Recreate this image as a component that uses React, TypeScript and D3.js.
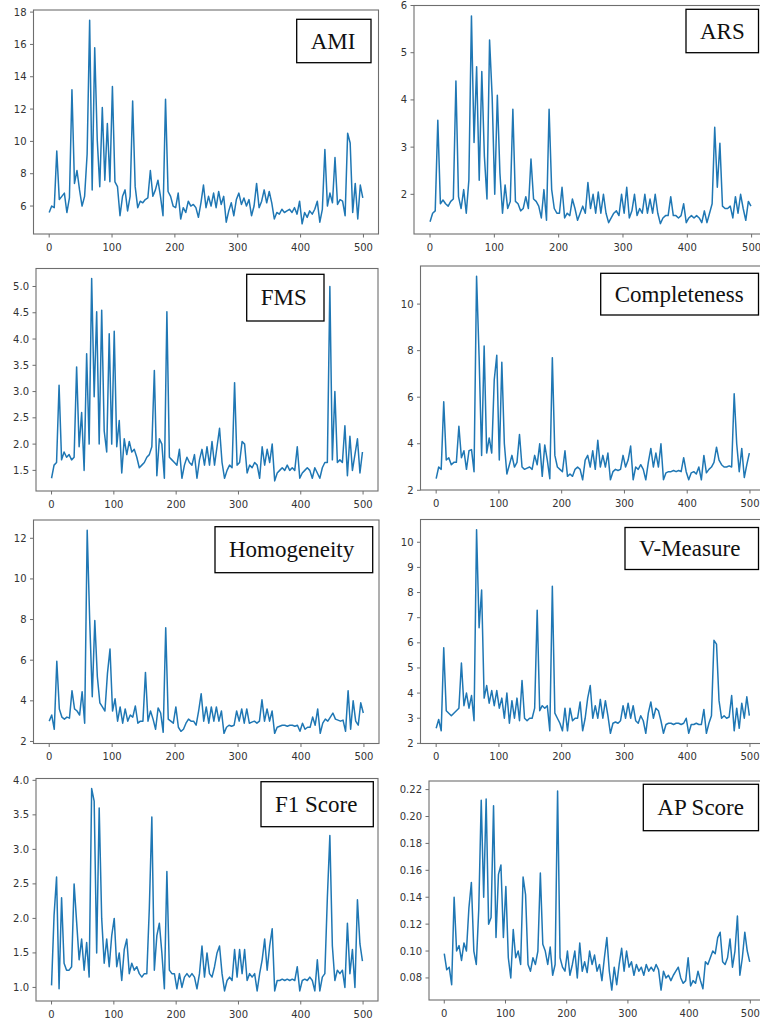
import React from 'react';
import * as d3 from 'd3';

// one value every ~4 runs (125 samples across runs 0..499)
const LAST_RUN = 499;

const titles = ['AMI', 'ARS', 'FMS', 'Completeness', 'Homogeneity', 'V-Measure', 'F1 Score', 'AP Score'];
const xTicks = [0, 100, 200, 300, 400, 500];

const amiValues = [
  5.6, 6.0, 5.9, 9.4, 6.4, 6.6, 6.8, 5.6, 6.5, 13.2,
  7.4, 8.2, 7.0, 6.0, 6.6, 9.2, 17.5, 7.0, 15.8, 10.1,
  7.2, 12.1, 7.6, 11.1, 7.5, 13.4, 7.5, 7.2, 5.4, 6.6,
  7.0, 5.7, 6.6, 12.5, 7.2, 5.9, 6.3, 6.2, 6.4, 6.5,
  8.2, 6.6, 7.0, 7.6, 6.6, 5.4, 12.6, 6.9, 6.6, 6.0,
  5.9, 6.8, 5.2, 5.9, 5.6, 6.3, 6.0, 6.1, 5.9, 5.3,
  6.2, 7.3, 5.9, 6.6, 6.0, 6.8, 5.9, 6.9, 6.1, 6.6,
  5.0, 5.7, 6.2, 5.4, 6.4, 6.8, 6.1, 6.5, 6.0, 6.4,
  5.4, 6.0, 7.4, 5.9, 6.3, 7.0, 6.2, 6.9, 6.2, 5.2,
  5.6, 5.5, 5.8, 5.6, 5.7, 5.8, 5.6, 5.9, 5.5, 6.3,
  4.9, 5.6, 5.3, 5.7, 5.5, 5.8, 6.3, 5.0, 5.8, 9.5,
  6.0, 6.8, 6.2, 9.0, 6.1, 6.4, 6.3, 5.4, 10.5, 9.9,
  5.6, 7.4, 5.2, 7.3, 6.5,
];

const arsValues = [
  1.42, 1.6, 1.65, 3.57, 1.8, 1.88, 1.8, 1.75, 1.85, 1.9,
  4.4, 1.95, 1.7, 2.1, 1.6, 2.3, 5.78, 3.1, 4.7, 2.3,
  4.6, 2.8, 1.9, 5.27, 4.07, 2.0, 4.1, 2.45, 1.6, 2.2,
  1.7, 1.85, 3.8, 1.85, 1.8, 1.65, 1.7, 1.95, 1.7, 2.75,
  1.9, 1.85, 1.75, 1.5, 2.1, 1.45, 3.8, 2.1, 1.7, 1.6,
  1.6, 2.15, 1.5, 1.6, 1.55, 1.9, 1.7, 1.45, 1.6, 1.75,
  1.6, 2.25, 1.7, 2.0, 1.6, 2.05, 1.6, 2.0, 1.6, 1.4,
  1.5, 1.6, 1.65, 1.55, 2.0, 1.6, 2.15, 1.5, 1.65, 2.0,
  1.55, 1.7, 1.6, 2.0, 1.6, 1.9, 1.6, 2.0, 1.6, 1.38,
  1.5, 1.55, 1.55, 1.95, 1.55, 1.55, 1.5, 1.55, 1.8, 1.4,
  1.5, 1.55, 1.5, 1.55, 1.5, 1.4, 1.65, 1.4, 1.6, 1.8,
  3.42, 2.15, 3.08, 1.75, 1.7, 1.7, 1.75, 1.5, 1.95, 1.6,
  2.0, 1.7, 1.45, 1.85, 1.75,
];

const fmsValues = [
  1.35, 1.6, 1.65, 3.12, 1.7, 1.85, 1.75, 1.8, 1.7, 1.75,
  3.47, 1.95, 2.6, 1.5, 3.72, 2.0, 5.15, 2.9, 4.52, 2.0,
  4.55, 2.25, 1.85, 4.1, 2.0, 4.15, 1.95, 2.45, 1.45, 2.1,
  1.8, 2.05, 1.85, 1.9, 1.75, 1.55, 1.6, 1.65, 1.75, 1.8,
  1.95, 3.4, 1.4, 2.1, 2.0, 1.35, 4.52, 1.75, 1.7, 1.65,
  1.6, 1.9, 1.35, 1.6, 1.75, 1.65, 1.6, 1.8, 1.35, 1.7,
  1.9, 1.6, 1.95, 1.6, 2.05, 1.6, 1.95, 2.3, 1.65, 1.35,
  1.5, 1.6, 1.55, 3.17, 1.6, 1.65, 2.05, 2.0, 1.45, 1.6,
  1.55, 1.65, 1.6, 1.35, 1.95, 1.6, 1.9, 1.65, 2.0, 1.3,
  1.45, 1.5, 1.55, 1.5, 1.6, 1.5, 1.55, 1.5, 1.95, 1.35,
  1.45, 1.5, 1.55, 1.5, 1.35, 1.55, 1.45, 1.35, 1.55, 1.65,
  1.65, 5.0, 1.7, 3.0, 1.65, 1.7, 1.65, 2.35, 1.4, 2.15,
  1.5, 1.8, 2.1, 1.45, 1.85,
];

const completenessValues = [
  2.5, 3.0, 2.9, 5.8, 3.3, 3.4, 3.1, 3.2, 3.2, 4.75,
  3.4, 3.7, 2.9, 3.7, 3.75, 2.8, 11.2, 7.75, 3.5, 8.2,
  3.6, 4.25, 3.6, 6.75, 7.8, 3.3, 7.5, 4.0, 2.7, 3.1,
  3.5, 3.0, 3.2, 4.4, 3.0, 2.9, 2.95, 3.0, 2.9, 3.5,
  3.1, 4.0, 2.6, 3.95, 3.3, 2.5, 7.7, 3.5, 3.0, 2.9,
  2.8, 3.7, 2.6, 2.7, 2.6, 2.9, 3.0, 2.9, 2.45, 3.3,
  3.5, 3.0, 3.7, 2.9, 4.15, 3.0, 3.5, 3.0, 3.6, 2.45,
  2.8, 2.9, 2.85, 2.9, 3.5, 3.0, 3.3, 3.9, 2.45, 3.0,
  2.9, 3.1, 2.9, 2.45, 3.2, 3.8, 3.0, 3.6, 3.0, 4.0,
  2.45, 2.75, 2.8, 2.8, 2.85, 2.8, 2.85, 2.8, 3.4, 2.8,
  2.45, 2.75, 2.8, 2.7, 3.0, 2.45, 3.5, 2.75, 2.9, 3.0,
  3.2, 3.85, 3.3, 3.1, 3.0, 3.0, 3.05, 3.0, 6.15, 4.0,
  2.8, 3.8, 2.55, 3.1, 3.6,
];

const homogeneityValues = [
  3.0, 3.3, 2.6, 5.95, 3.6, 3.2, 3.1, 3.2, 3.15, 4.5,
  3.6, 3.5, 3.3, 4.45, 2.9, 12.4, 7.9, 4.2, 7.95, 5.2,
  3.9, 3.7, 3.5, 5.35, 6.55, 3.5, 4.1, 3.0, 3.7, 2.9,
  3.6, 3.0, 3.3, 3.2, 3.75, 2.9, 3.0, 3.0, 5.4, 3.0,
  3.5, 3.1, 2.6, 3.65, 3.4, 2.45, 7.6, 3.1, 3.0, 2.9,
  3.7, 2.7, 2.5, 2.6, 2.9, 3.1, 3.0, 3.0, 2.8, 3.5,
  4.35, 3.0, 3.7, 2.9, 3.7, 3.0, 3.7, 3.0, 3.5, 2.4,
  2.7, 2.8, 2.75, 2.8, 3.5, 3.0, 3.6, 2.9, 3.6, 2.9,
  2.95, 3.0, 2.9, 3.0, 4.05, 3.0, 3.6, 3.0, 3.5, 2.4,
  2.7, 2.75, 2.8, 2.8, 2.75, 2.8, 2.8, 2.75, 2.8, 2.5,
  2.9, 2.6, 2.7, 2.7, 3.2, 2.8, 3.6, 2.4, 2.9, 3.1,
  3.0, 3.2, 3.4, 3.1, 3.05, 3.0, 3.05, 2.5, 4.5, 2.6,
  4.0, 3.0, 2.8, 3.9, 3.4,
];

const vMeasureValues = [
  2.6, 2.95, 2.5, 5.8, 3.3, 3.2, 3.1, 3.2, 3.3, 3.4,
  5.2, 3.5, 4.0, 3.4, 3.9, 2.9, 10.5, 6.6, 8.1, 3.8,
  4.3, 3.6, 4.1, 3.5, 4.1, 3.4, 3.8, 3.0, 4.0, 2.8,
  3.7, 3.0, 3.8, 2.9, 4.5, 3.0, 2.9, 3.0, 3.0, 3.4,
  7.3, 3.3, 3.5, 3.4, 3.5, 2.5, 8.25, 3.2, 3.0, 2.8,
  2.5, 3.4, 2.5, 3.4, 2.9, 3.0, 3.0, 3.65, 2.5, 3.0,
  3.8, 4.3, 3.0, 3.5, 3.0, 3.75, 3.0, 3.7, 3.1, 2.4,
  2.8, 2.85, 2.8, 2.9, 3.5, 3.0, 3.6, 3.0, 3.5, 2.9,
  2.8, 3.1, 2.9, 2.4, 3.2, 3.65, 3.0, 3.4, 3.3, 2.9,
  2.4, 2.75, 2.8, 2.8, 2.75, 2.8, 2.8, 2.75, 2.8, 3.0,
  2.4, 2.75, 2.75, 2.8, 2.75, 2.75, 3.35, 2.4, 2.8, 3.1,
  6.1, 5.95, 3.7, 3.0, 3.1, 3.0, 3.05, 3.9, 2.5, 3.4,
  2.6, 3.6, 3.0, 3.85, 3.1,
];

const f1Values = [
  1.03, 2.04, 2.6, 0.98, 2.3, 1.35, 1.25, 1.25, 1.3, 2.5,
  1.95, 1.4, 1.7, 1.25, 1.65, 1.15, 3.88, 3.7, 1.5, 3.6,
  2.0, 1.35, 1.7, 1.3, 1.75, 2.0, 1.3, 1.5, 1.1, 1.55,
  1.7, 1.2, 1.35, 1.25, 1.3, 1.2, 1.15, 1.2, 1.2, 2.15,
  3.47, 1.25, 1.75, 1.93, 1.5, 0.98, 2.68, 1.25, 1.2, 1.2,
  0.98, 1.2, 1.0, 1.15, 1.2, 1.15, 1.2, 1.15, 0.98, 1.2,
  1.6, 1.15, 1.5, 1.2, 1.15, 1.3, 1.5, 1.6, 1.2, 0.95,
  1.1, 1.15, 1.1, 1.55, 1.15, 1.55, 1.2, 1.55, 1.1, 1.2,
  1.15, 1.2, 0.95, 1.2, 1.4, 1.7, 1.25, 1.6, 1.85, 0.95,
  1.1, 1.1, 1.12, 1.1, 1.12, 1.1, 1.12, 1.1, 1.3, 0.95,
  1.1, 1.12, 1.1, 1.15, 1.1, 0.95, 1.4, 0.95, 1.15, 1.2,
  2.3, 3.2, 1.6, 1.1, 1.25, 1.2, 1.25, 1.0, 1.93, 1.2,
  1.55, 1.0, 2.27, 1.63, 1.38,
];

const apValues = [
  0.098, 0.086, 0.088, 0.075, 0.14, 0.1, 0.104, 0.093, 0.106, 0.1,
  0.132, 0.151, 0.1, 0.09, 0.131, 0.212, 0.14, 0.213, 0.12, 0.125,
  0.208, 0.11, 0.157, 0.164, 0.11, 0.148, 0.095, 0.08, 0.116, 0.095,
  0.1, 0.09, 0.155, 0.142, 0.09, 0.085, 0.095, 0.09, 0.1, 0.158,
  0.105, 0.1, 0.09, 0.103, 0.082, 0.09, 0.219, 0.095, 0.088, 0.085,
  0.1, 0.082, 0.09, 0.1, 0.08, 0.106, 0.085, 0.092, 0.084, 0.1,
  0.09, 0.097, 0.085, 0.09, 0.078, 0.095, 0.11, 0.085, 0.071, 0.088,
  0.075, 0.09, 0.102, 0.085, 0.1, 0.088, 0.092, 0.082, 0.09, 0.085,
  0.088, 0.082, 0.09, 0.085, 0.088, 0.085, 0.09, 0.086, 0.071, 0.085,
  0.08, 0.082, 0.078, 0.082, 0.085, 0.088, 0.08, 0.076, 0.078, 0.095,
  0.074, 0.078, 0.076, 0.085, 0.078, 0.072, 0.092, 0.09, 0.095, 0.1,
  0.098, 0.11, 0.114, 0.092, 0.09, 0.095, 0.109, 0.088, 0.1, 0.126,
  0.082, 0.095, 0.114, 0.1, 0.092,
];

const amiTicks = [6, 8, 10, 12, 14, 16, 18];
const arsTicks = [2, 3, 4, 5, 6];
const fmsTicks = [1.5, 2.0, 2.5, 3.0, 3.5, 4.0, 4.5, 5.0];
const completenessTicks = [2, 4, 6, 8, 10];
const homogeneityTicks = [2, 4, 6, 8, 10, 12];
const vMeasureTicks = [2, 3, 4, 5, 6, 7, 8, 9, 10];
const f1Ticks = [1.0, 1.5, 2.0, 2.5, 3.0, 3.5, 4.0];
const apTicks = [0.08, 0.1, 0.12, 0.14, 0.16, 0.18, 0.2, 0.22];

const seriesList = [amiValues, arsValues, fmsValues, completenessValues, homogeneityValues, vMeasureValues, f1Values, apValues];
const tickList = [amiTicks, arsTicks, fmsTicks, completenessTicks, homogeneityTicks, vMeasureTicks, f1Ticks, apTicks];
const decimals = [0, 0, 1, 0, 0, 0, 1, 2];

// each subplot was pasted in at a slightly different spot
const frames = [
  { l: 33.5, t: 10, r: 378.5, b: 234 },
  { l: 414, t: 5.5, r: 767, b: 234 },
  { l: 36, t: 268.5, r: 378, b: 491 },
  { l: 420.5, t: 266, r: 765, b: 490 },
  { l: 33.5, t: 520, r: 379, b: 743.5 },
  { l: 420.5, t: 519.5, r: 765, b: 743.5 },
  { l: 36, t: 778.5, r: 378, b: 1001 },
  { l: 429, t: 781, r: 765, b: 1000 },
];

const boxes = [
  { x: 296.7, y: 19.3, w: 74.3, h: 43.4 },
  { x: 686, y: 9.3, w: 72.5, h: 43.4 },
  { x: 246.7, y: 274.3, w: 77.3, h: 46.7 },
  { x: 600.7, y: 273.3, w: 157.8, h: 41.7 },
  { x: 215, y: 526.7, w: 157.7, h: 46 },
  { x: 625, y: 527.5, w: 133.5, h: 42 },
  { x: 261, y: 781.7, w: 112.3, h: 45 },
  { x: 643.3, y: 784.3, w: 115.2, h: 46.4 },
];

const SPINE = '#6e6e6e';
const TICK_TEXT = '#333';

function Panel({ idx }: { idx: number }) {
  const values = seriesList[idx];
  const f = frames[idx];
  const box = boxes[idx];
  const step = LAST_RUN / (values.length - 1);

  const x = d3.scaleLinear()
    .domain([-0.05 * LAST_RUN, LAST_RUN * 1.05])
    .range([f.l, f.r]);

  const [lo, hi] = d3.extent(values) as [number, number];
  const pad = (hi - lo) * 0.05;
  const y = d3.scaleLinear().domain([lo - pad, hi + pad]).range([f.b, f.t]);

  const line = d3.line<number>()
    .x((_, i) => x(i * step))
    .y(d => y(d));

  const fmt = (v: number) => v.toFixed(decimals[idx]);

  return (
    <g>
      <rect x={f.l} y={f.t} width={f.r - f.l} height={f.b - f.t} fill="none" stroke={SPINE} strokeWidth={1.1} />
      {xTicks.map(t => (
        <g key={'x' + t} transform={`translate(${x(t)},${f.b})`}>
          <line y2={3.5} stroke={SPINE} strokeWidth={1} />
          <text y={16.5} textAnchor="middle" fontSize={10} fill={TICK_TEXT}
            fontFamily="'DejaVu Sans', sans-serif">{t}</text>
        </g>
      ))}
      {tickList[idx].map(t => (
        <g key={'y' + t} transform={`translate(${f.l},${y(t)})`}>
          <line x2={-3.5} stroke={SPINE} strokeWidth={1} />
          <text x={-7} dy="0.35em" textAnchor="end" fontSize={10} fill={TICK_TEXT}
            fontFamily="'DejaVu Sans', sans-serif">{fmt(t)}</text>
        </g>
      ))}
      <path d={line(values) || ''} fill="none" stroke="#1f77b4" strokeWidth={1.5} strokeLinejoin="round" />
      <rect x={box.x} y={box.y} width={box.w} height={box.h} fill="#fff" stroke="#000" strokeWidth={1.3} />
      <text x={box.x + 14} y={box.y + box.h / 2 + 7.6} fontSize={23}
        fontFamily="'Liberation Serif', 'Times New Roman', serif" fill="#111">{titles[idx]}</text>
    </g>
  );
}

export default function App() {
  return (
    <svg width={760} height={1021} style={{ position: 'absolute', left: 0, top: 0, background: '#fff' }}>
      <rect width={760} height={1021} fill="#fff" />
      {titles.map((_, i) => <Panel key={i} idx={i} />)}
    </svg>
  );
}
